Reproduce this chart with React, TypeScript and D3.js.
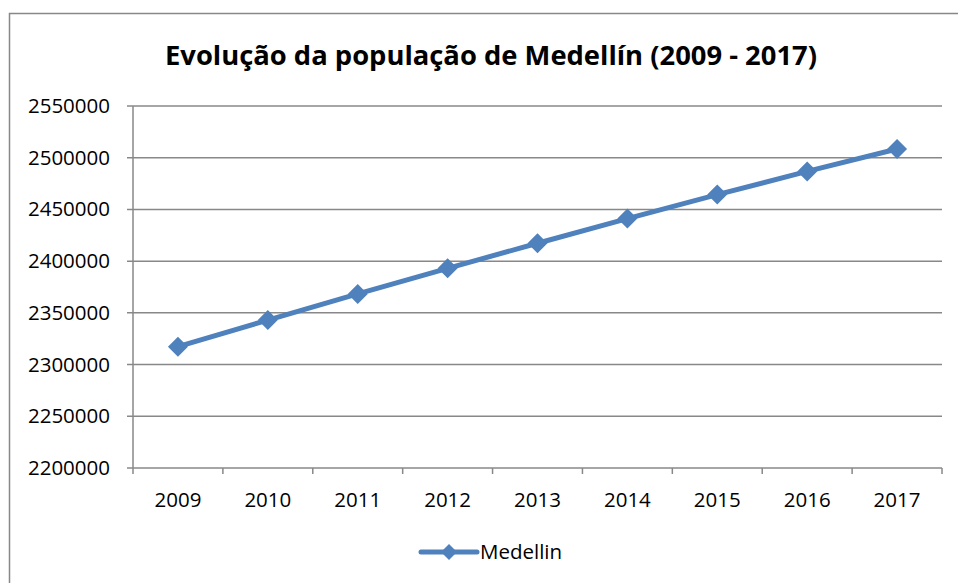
import * as d3 from 'd3';

const years = ['2009', '2010', '2011', '2012', '2013', '2014', '2015', '2016', '2017'];
const population = [2317336, 2343049, 2368282, 2393011, 2417325, 2441123, 2464322, 2486723, 2508452];
const yTicks = [2200000, 2250000, 2300000, 2350000, 2400000, 2450000, 2500000, 2550000];
const seriesName = 'Medellin';
const title = 'Evolução da população de Medellín (2009 - 2017)';

const W = 958;
const H = 583;
const plot = { left: 133, right: 942, top: 106, bottom: 468 };
const blue = '#4F81BD';
const grid = '#888888';
const font = 'Open Sans, Lato, sans-serif';

function Diamond({ x, y, r }: { x: number; y: number; r: number }) {
	return <path d={`M${x},${y - r}L${x + r},${y}L${x},${y + r}L${x - r},${y}Z`} fill={blue} />;
}

export default function App() {
	const x = d3.scaleBand().domain(years).range([plot.left, plot.right]);
	const y = d3.scaleLinear().domain([2200000, 2550000]).range([plot.bottom, plot.top]);

	const line = d3.line<number>()
		.x((_, i) => x(years[i])! + x.bandwidth() / 2)
		.y(d => y(d));

	const boundaries = years.map(yr => x(yr)!).concat([plot.right]);

	return (
		<svg width={W} height={H} style={{ position: 'absolute', left: 0, top: 0 }}>
			<rect x={0} y={0} width={W} height={H} fill='white' />
			<rect x={9.5} y={13.5} width={W + 10} height={H + 10} fill='none' stroke={grid} strokeWidth={1.5} />
			<text x={491} y={65} textAnchor='middle' fontFamily={font} fontWeight='bold' fontSize={27} textLength={652} lengthAdjust='spacingAndGlyphs'>{title}</text>

			{yTicks.map(t => (
				<g key={t}>
					<line x1={plot.left - 6} x2={plot.right} y1={y(t)} y2={y(t)} stroke={grid} strokeWidth={1.5} />
					<text x={110} y={y(t) + 7} textAnchor='end' fontFamily={font} fontSize={20.5}>{t}</text>
				</g>
			))}
			<line x1={plot.left} x2={plot.left} y1={plot.top} y2={plot.bottom} stroke={grid} strokeWidth={1.5} />
			{boundaries.map((b, i) => (
				<line key={i} x1={b} x2={b} y1={plot.bottom} y2={plot.bottom + 6} stroke={grid} strokeWidth={1.5} />
			))}
			{years.map(yr => (
				<text key={yr} x={x(yr)! + x.bandwidth() / 2} y={507} textAnchor='middle' fontFamily={font} fontSize={20.5}>{yr}</text>
			))}

			<path d={line(population)!} fill='none' stroke={blue} strokeWidth={5} strokeLinejoin='round' />
			{population.map((v, i) => (
				<Diamond key={i} x={x(years[i])! + x.bandwidth() / 2} y={y(v)} r={10} />
			))}

			<line x1={421} x2={477} y1={552} y2={552} stroke={blue} strokeWidth={5} strokeLinecap='round' />
			<Diamond x={449} y={552} r={8} />
			<text x={480} y={559} fontFamily={font} fontSize={20.5}>{seriesName}</text>
		</svg>
	);
}
